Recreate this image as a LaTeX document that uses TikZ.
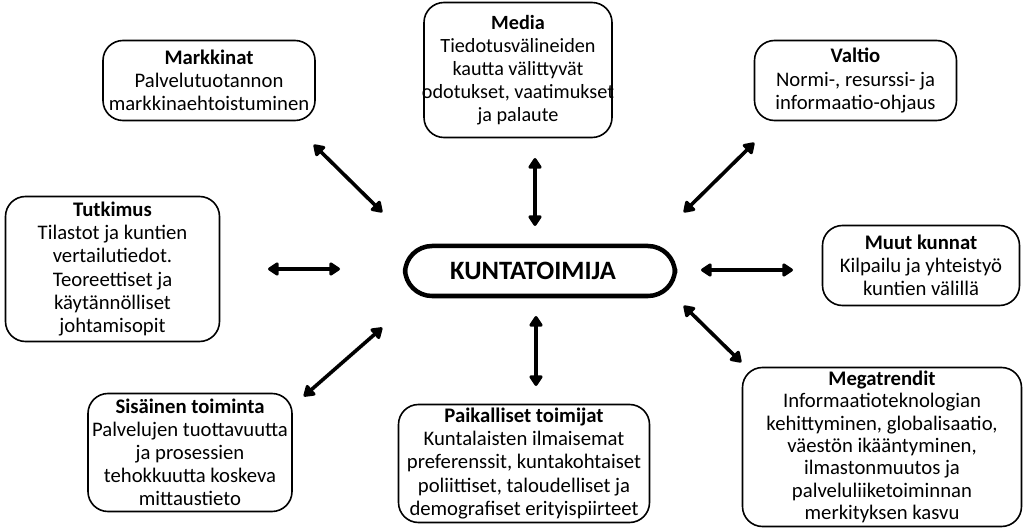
\documentclass[tikz,border=0pt]{standalone}
\usepackage{fontspec}
\setmainfont{Carlito}
\usetikzlibrary{arrows.meta}
\begin{document}
\begin{tikzpicture}[x=1pt,y=-1pt,
  infobox/.style={draw, line width=1.6pt, rounded corners=20pt, align=center,
    inner sep=0.5pt, font=\fontsize{20.7}{23.1}\selectfont},
  hub/.style={draw, line width=4.5pt, rounded corners=27pt, align=center,
    font=\fontsize{26.5}{30}\selectfont\bfseries},
  link/.style={line width=3.6pt, {Triangle[round,width=15pt,length=12pt]}-{Triangle[round,width=15pt,length=12pt]}, shorten <=1pt, shorten >=1pt}]
\useasboundingbox (0,0) rectangle (1025,529);

% central actor
\node[hub, minimum width=270pt, minimum height=50pt] (hub) at (540,271) {KUNTATOIMIJA\hspace*{14pt}};

% surrounding influences
\node[infobox, minimum width=212pt, minimum height=80pt] (mark) at (209,80.5)
  {\textbf{Markkinat}\\Palvelutuotannon\\markkinaehtoistuminen};
\node[infobox, minimum width=188pt, minimum height=135pt, inner xsep=-3pt,
      font=\fontsize{20.2}{23.1}\selectfont] (media) at (518,70)
  {\textbf{Media}\\Tiedotusvälineiden\\kautta välittyvät\\odotukset, vaatimukset\\ja palaute};
\node[infobox, minimum width=202pt, minimum height=80pt] (valtio) at (855.5,80.5)
  {\textbf{Valtio}\\Normi-, resurssi- ja\\informaatio-ohjaus};
\node[infobox, minimum width=214pt, minimum height=145pt] (tutk) at (112.5,269)
  {\textbf{Tutkimus}\\Tilastot ja kuntien\\vertailutiedot.\\Teoreettiset ja\\käytännölliset\\johtamisopit};
\node[infobox, minimum width=197pt, minimum height=80pt] (muut) at (921,265.5)
  {\textbf{Muut kunnat}\\Kilpailu ja yhteistyö\\kuntien välillä};
\node[infobox, minimum width=204pt, minimum height=118pt] (sis) at (190,452.5)
  {\textbf{Sisäinen toiminta}\\Palvelujen tuottavuutta\\ja prosessien\\tehokkuutta koskeva\\mittaustieto};
\node[infobox, minimum width=251pt, minimum height=118pt] (paik) at (524,463.5)
  {\textbf{Paikalliset toimijat}\\Kuntalaisten ilmaisemat\\preferenssit, kuntakohtaiset\\poliittiset, taloudelliset ja\\demografiset erityispiirteet};
\node[infobox, minimum width=279pt, minimum height=159pt,
      font=\fontsize{20.7}{22.3}\selectfont] (mega) at (882,447)
  {\textbf{Megatrendit}\\Informaatioteknologian\\kehittyminen, globalisaatio,\\väestön ikääntyminen,\\ilmastonmuutos ja\\palveluliiketoiminnan\\merkityksen kasvu};

% arrow end points
\coordinate (a1) at (313,144); \coordinate (b1) at (383,213);
\coordinate (a2) at (535,157); \coordinate (b2) at (535,227);
\coordinate (a3) at (755,142); \coordinate (b3) at (683,213);
\coordinate (a4) at (267,269); \coordinate (b4) at (341,269);
\coordinate (a5) at (700,270); \coordinate (b5) at (794,270);
\coordinate (a6) at (383,327); \coordinate (b6) at (303,397);
\coordinate (a7) at (536,315); \coordinate (b7) at (536,387);
\coordinate (a8) at (683,305); \coordinate (b8) at (742,363);

% two-way influences
\foreach \i in {1,...,8} \draw[link] (a\i) -- (b\i);
\end{tikzpicture}
\end{document}
